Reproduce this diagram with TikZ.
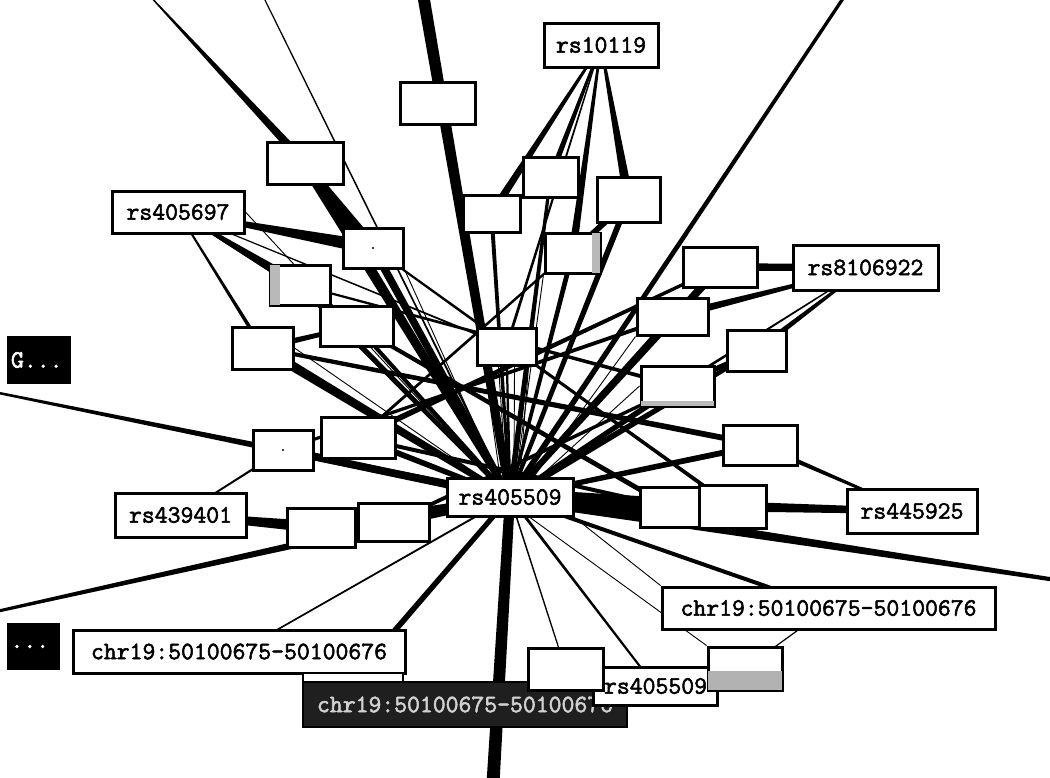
\documentclass[tikz,border=0pt]{standalone}
\usepackage{fontspec}
\newfontfamily\tagfont{Latin Modern Mono}[FakeBold=2.2]
\usetikzlibrary{calc}
\pgfdeclarelayer{paper}
\pgfdeclarelayer{edges}
\pgfsetlayers{paper,edges,main}

% tapered connector: from #1 (half width #3) to #2 (half width #4)
\newcommand\taper[4]{%
  \fill ($(#1.center)!#3pt!90:(#2.center)$) -- ($(#1.center)!#3pt!-90:(#2.center)$)
     -- ($(#2.center)!#4pt!90:(#1.center)$) -- ($(#2.center)!#4pt!-90:(#1.center)$) -- cycle;}

\tikzset{
  blank/.style={draw=black, line width=3pt, fill=white, inner sep=0pt, rectangle},
  tag/.style={blank, font=\tagfont\fontsize{25}{27}\selectfont},
  darktag/.style={draw=black, line width=2pt, fill=black, text=white, inner sep=0pt,
    font=\tagfont\fontsize{25}{27}\selectfont},
  strip/.style={fill=gray!55},
  fine/.style={line width=0.9pt},
}

\begin{document}
\begin{tikzpicture}[x=1pt, y=-1pt]
\useasboundingbox (0,0) rectangle (1050,777);
\begin{pgfonlayer}{paper}
\fill[white] (0,0) rectangle (1050,777);
\end{pgfonlayer}

% nodes far outside the frame
\coordinate (o1) at (148,-6);
\coordinate (o2) at (262,-6);
\coordinate (o3) at (423,-6);
\coordinate (o4) at (846,-6);
\coordinate (o5) at (-6,392);
\coordinate (o6) at (-6,612);
\coordinate (o7) at (1056,580);
\coordinate (o8) at (493,783);

% unlabelled boxes
\node[blank, minimum width=75pt, minimum height=42pt] (b1) at (437.5,103) {};
\node[blank, minimum width=76pt, minimum height=42pt] (b2) at (305,163) {};
\node[blank, minimum width=60pt, minimum height=40pt] (b3) at (373,248) {};
\node[blank, minimum width=60pt, minimum height=40pt] (b4) at (300,285) {};
\node[blank, minimum width=73pt, minimum height=40pt] (b5) at (356.5,326) {};
\node[blank, minimum width=61pt, minimum height=42pt] (b6) at (262.5,348) {};
\node[blank, minimum width=57pt, minimum height=37pt] (b7) at (491.5,213.5) {};
\node[blank, minimum width=55pt, minimum height=40pt] (b8) at (550.5,177) {};
\node[blank, minimum width=63pt, minimum height=45pt] (b9) at (628.5,199.5) {};
\node[blank, minimum width=55pt, minimum height=40pt] (b10) at (572.5,253) {};
\node[blank, minimum width=74pt, minimum height=40pt] (b11) at (720,267) {};
\node[blank, minimum width=71pt, minimum height=37pt] (b12) at (672.5,316.5) {};
\node[blank, minimum width=59pt, minimum height=41pt] (b13) at (756.5,350.5) {};
\node[blank, minimum width=59pt, minimum height=37pt] (b14) at (506.5,346.5) {};
\node[blank, minimum width=73pt, minimum height=40pt] (b15) at (677.5,386) {};
\node[blank, minimum width=74pt, minimum height=40pt] (b16) at (760,445) {};
\node[blank, minimum width=60pt, minimum height=40pt] (b17) at (283,450) {};
\node[blank, minimum width=74pt, minimum height=41pt] (b18) at (358,437.5) {};
\node[blank, minimum width=68pt, minimum height=39pt] (b19) at (321,527.5) {};
\node[blank, minimum width=71pt, minimum height=38pt] (b20) at (393.5,522) {};
\node[blank, minimum width=60pt, minimum height=40pt] (b21) at (670,507) {};
\node[blank, minimum width=67pt, minimum height=43pt] (b22) at (732.5,506.5) {};

% shaded edges of a few boxes
\fill[strip] ($(b4.north west)+(1.5,1.5)$) rectangle ($(b4.south west)+(11,-1.5)$);
\fill[strip] ($(b10.north east)+(-10,1.5)$) rectangle ($(b10.south east)+(-1.5,-1.5)$);
\fill[strip] ($(b15.south west)+(1.5,-7)$) rectangle ($(b15.south east)+(-1.5,-1.5)$);
\fill (b3.center) circle (1.2);
\fill (b17.center) circle (1.2);

% labelled nodes
\node[tag, minimum width=126pt, minimum height=38pt] (h) at (510,497) {rs405509};
\node[tag, minimum width=114pt, minimum height=44pt] (l1) at (601,45) {rs10119};
\node[tag, minimum width=132pt, minimum height=42pt] (l2) at (178,212) {rs405697};
\node[tag, minimum width=145pt, minimum height=45pt] (l3) at (865.5,267.5) {rs8106922};
\node[tag, minimum width=131pt, minimum height=44pt] (l4) at (180.5,515) {rs439401};
\node[tag, minimum width=130pt, minimum height=44pt] (l5) at (912,511) {rs445925};
\node[tag, minimum width=333pt, minimum height=42pt] (l6) at (828.5,608) {chr19:50100675-50100676};
\node[tag, minimum width=332pt, minimum height=43pt] (l7) at (239,651.5) {chr19:50100675-50100676};

% collapsed groups at the left margin
\node[darktag, minimum width=62pt, minimum height=46pt, text width=56pt, align=left] (g) at (39,360) {G...};
\node[darktag, minimum width=51pt, minimum height=45pt, text width=46pt, align=left] (e) at (33.5,646.5) {...};

% overlapping stack at the bottom
\node[draw=black, line width=2pt, fill=white, minimum width=100pt, minimum height=12pt, inner sep=0pt] (dtop) at (353,679) {};
\node[darktag, fill=black!88, text=gray!35, minimum width=324pt, minimum height=45pt] (d) at (465,704.5) {chr19:50100675-50100676};
\node[tag, minimum width=124pt, minimum height=38pt, text width=104pt, align=right] (l8) at (655,686) {rs405509};
\node[blank, minimum width=75pt, minimum height=42pt] (b23) at (565.5,669) {};
\node[blank, minimum width=74pt, minimum height=43pt] (b24) at (745,668.5) {};
\fill[gray!60] ($(b24.south west)+(1.5,-21)$) rectangle ($(b24.south east)+(-1.5,-1.5)$);

\begin{pgfonlayer}{edges}
\clip (0,0) rectangle (1050,777);
% long connectors leaving the frame
\taper{o1}{b2}{0.6}{4.5}
\taper{o2}{h}{0.6}{1}
\taper{o3}{h}{6}{4}
\taper{o4}{h}{1.6}{3}
\taper{o5}{h}{1.2}{4.5}
\taper{o6}{h}{1.5}{4.5}
\taper{o7}{h}{2}{6}
\taper{o8}{h}{6.5}{5}

% hub connectors
\taper{b2}{h}{6}{3}
\taper{b2}{b3}{3}{6}
\taper{b3}{h}{4}{3}
\taper{b4}{h}{3}{2}
\taper{b5}{h}{2}{2}
\taper{b6}{h}{5}{3}
\taper{b7}{h}{2}{1.5}
\taper{b8}{h}{1.5}{3}
\taper{b9}{h}{3}{2}
\taper{b10}{h}{2.5}{1.5}
\taper{b11}{h}{4}{3}
\taper{b12}{h}{3}{2.5}
\taper{b13}{h}{2}{3.5}
\taper{b14}{h}{1}{1.5}
\taper{b15}{h}{3}{2}
\taper{b16}{h}{3}{2.5}
\taper{b17}{h}{4}{3}
\taper{b18}{h}{3}{2.5}
\taper{b19}{h}{5}{3}
\taper{b20}{h}{3}{2.5}
\taper{b21}{h}{9}{9}
\taper{b22}{h}{5}{7}
\taper{b23}{h}{0.6}{0.8}
\taper{l8}{h}{1}{1.5}
\taper{l6}{h}{2}{2}
\taper{l7}{h}{0.8}{1}
\taper{dtop}{h}{3}{2.5}

% bundle of fine links into the hub
\draw[fine] ([xshift=-22]b14.south) -- ([xshift=-10]h.north);
\draw[fine] ([xshift=-8]b14.south) -- ([xshift=-4]h.north);
\draw[fine] ([xshift=8]b14.south) -- ([xshift=4]h.north);
\draw[fine] ([xshift=22]b14.south) -- ([xshift=10]h.north);
\draw[fine] (l2.east) -- ([xshift=-20]h.north);
\draw[fine] (b3.south east) -- ([xshift=-12]h.north);
\draw[fine] (b10.south west) -- ([xshift=6]h.north);
\draw[fine] (b12.south west) -- ([xshift=24]h.north);
\draw[fine] (b15.west) -- ([xshift=30]h.north);
\draw[fine] (b6.east) -- ([xshift=-30]h.north);
\draw[fine] (l6.north west) -- (h.south east);
\draw[fine] (b24.north west) -- ([xshift=20]h.south);

% second-ring connectors
\taper{l1}{b7}{1}{4}
\taper{l1}{b8}{1}{3}
\taper{l1}{b9}{1}{5}
\taper{l1}{b10}{1}{4}
\taper{l1}{b14}{0.6}{1.5}
\taper{l2}{b3}{1}{7}
\taper{l2}{b4}{1}{5}
\taper{l2}{b6}{0.8}{2}
\taper{l2}{b5}{0.6}{2}
\taper{l2}{b14}{0.5}{1}
\taper{l3}{b11}{3}{4}
\taper{l3}{b12}{1}{4}
\taper{l3}{b13}{1}{3}
\taper{l3}{b15}{0.5}{1.5}
\taper{l4}{b17}{0.8}{1.2}
\taper{l4}{b19}{3}{6}
\taper{l5}{b22}{3}{5}
\taper{l5}{b16}{1}{2.5}
\taper{l6}{b24}{0.6}{0.6}
\taper{b4}{b5}{5}{2}
\taper{b6}{b5}{3}{2}
\taper{b9}{b10}{4}{2}
\taper{b11}{b12}{3}{2}
\taper{b13}{b15}{2}{3}

% crossing connectors between boxes
\taper{b6}{b16}{2}{3}
\taper{b5}{b21}{2}{2.5}
\taper{b11}{b18}{1.5}{3}
\taper{b13}{b20}{1.5}{2}
\taper{b4}{b15}{1}{2}
\taper{b12}{b17}{2}{1.5}
\taper{b9}{b18}{1}{1.5}
\taper{b3}{b22}{1}{2}
\taper{b18}{b21}{2}{2}
\end{pgfonlayer}
\end{tikzpicture}
\end{document}
